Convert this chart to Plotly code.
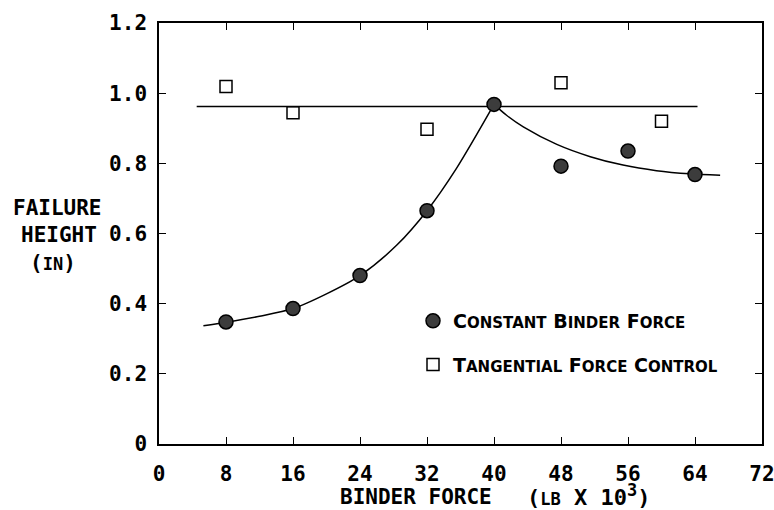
import plotly.graph_objects as go

# ---- data ----
cbf_x = [8, 16, 24, 32, 40, 48, 56, 64]
cbf_y = [0.348, 0.386, 0.48, 0.665, 0.968, 0.792, 0.835, 0.768]

tfc_x = [8, 16, 32, 48, 60]
tfc_y = [1.019, 0.944, 0.897, 1.030, 0.920]

# fitted curves
rise_x = [5.3, 8, 12, 16, 20, 24, 28.4, 32, 35.5, 40]
rise_y = [0.337, 0.347, 0.364, 0.386, 0.428, 0.48, 0.567, 0.665, 0.785, 0.968]

fall_x = [40, 41.5, 43.5, 47.5, 51.5, 55.4, 59.4, 63.4, 67.0]
fall_y = [0.968, 0.937, 0.904, 0.854, 0.819, 0.795, 0.779, 0.770, 0.766]

flat_x = [4.5, 64.3]
flat_y = [0.962, 0.962]

x_ticks = [0, 8, 16, 24, 32, 40, 48, 56, 64, 72]
y_ticks = [0, 0.2, 0.4, 0.6, 0.8, 1.0, 1.2]
y_ticktext = ["0", "0.2", "0.4", "0.6", "0.8", "1.0", "1.2"]

MONO = "DejaVu Sans Mono"
SANS = "DejaVu Sans"


def smallcaps(words, small=15):
    parts = []
    for w in words.split(" "):
        parts.append(w[0] + '<span style="font-size:%spx">%s</span>' % (small, w[1:]))
    return " ".join(parts)


fig = go.Figure()

fig.add_trace(go.Scatter(x=flat_x, y=flat_y, mode="lines",
                         line=dict(color="black", width=1.5), showlegend=False, hoverinfo="skip"))
fig.add_trace(go.Scatter(x=rise_x, y=rise_y, mode="lines", line_shape="spline",
                         line=dict(color="black", width=1.5, smoothing=0.8),
                         showlegend=False, hoverinfo="skip"))
fig.add_trace(go.Scatter(x=fall_x, y=fall_y, mode="lines", line_shape="spline",
                         line=dict(color="black", width=1.5, smoothing=0.8),
                         showlegend=False, hoverinfo="skip"))

fig.add_trace(go.Scatter(x=cbf_x, y=cbf_y, mode="markers",
                         name=smallcaps("CONSTANT BINDER FORCE"), legendgroup="a",
                         marker=dict(symbol="circle", size=14, color="#3c3c3c",
                                     line=dict(color="black", width=1.5))))
fig.add_trace(go.Scatter(x=tfc_x, y=tfc_y, mode="markers",
                         name=smallcaps("TANGENTIAL FORCE CONTROL"), legendgroup="b",
                         marker=dict(symbol="square-open", size=12, color="black",
                                     line=dict(color="black", width=1.5))))

axis_common = dict(showline=True, linecolor="black", linewidth=1.5, mirror="ticks",
                   ticks="inside", ticklen=7, tickwidth=1.2, tickcolor="black",
                   showgrid=False, zeroline=False, automargin=False,
                   ticklabeloverflow="allow",
                   tickfont=dict(family=MONO, size=21, color="black", weight="bold"))

fig.update_xaxes(range=[0, 72], tickvals=x_ticks, ticktext=[str(v) for v in x_ticks],
                 ticklabelstandoff=10, **axis_common)
fig.update_yaxes(range=[0, 1.2], tickvals=y_ticks, ticktext=y_ticktext,
                 ticklabelstandoff=6, **axis_common)

title_font = dict(family=MONO, size=21, color="black", weight="bold")
fig.add_annotation(text="BINDER FORCE",
                   xref="paper", yref="paper", x=(338 - 159) / 603, y=(444 - 497) / 421,
                   xanchor="left", yanchor="middle", showarrow=False, font=title_font)
fig.add_annotation(text='(<span style="font-size:17px">LB</span> X 10<sup><span style="font-size:17px">3</span></sup>)',
                   xref="paper", yref="paper", x=(525 - 159) / 603, y=(444 - 495) / 421,
                   xanchor="left", yanchor="middle", showarrow=False,
                   font=dict(family=MONO, size=22, color="black", weight="bold"))
for txt, xpx, ypx in [("FAILURE", 57, 208), ("HEIGHT", 59, 235),
                      ('(<span style="font-size:17px">IN</span>)', 53, 263)]:
    fig.add_annotation(text=txt, xref="paper", yref="paper",
                       x=(xpx - 159) / 603, y=(444 - ypx) / 421,
                       xanchor="center", yanchor="middle", showarrow=False, font=title_font)

fig.update_layout(
    width=774, height=510,
    margin=dict(l=159, r=12, t=23, b=66, autoexpand=False),
    paper_bgcolor="white", plot_bgcolor="white",
    legend=dict(x=(413 - 159) / 603, y=(444 - 302) / 421, xanchor="left", yanchor="top",
                bgcolor="rgba(0,0,0,0)", tracegroupgap=16,
                font=dict(family=SANS, size=19, color="black", weight="bold")),
)

fig.write_html("out.html")
